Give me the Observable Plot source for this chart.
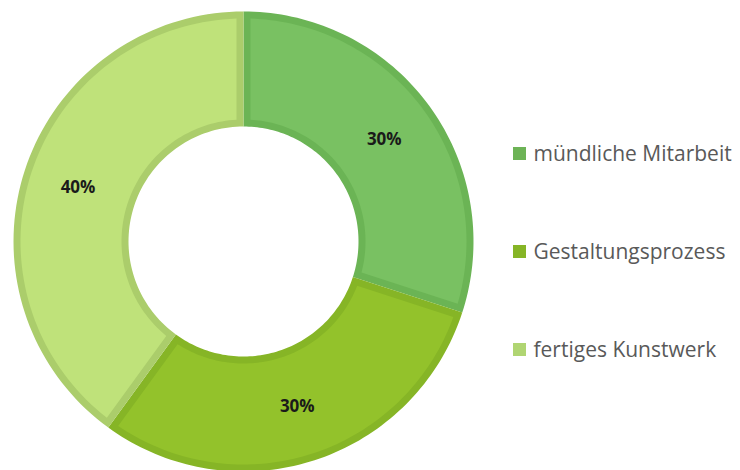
<!DOCTYPE html>
<html><head><meta charset="utf-8">
<script src="https://cdn.jsdelivr.net/npm/d3@7"></script>
<script src="https://cdn.jsdelivr.net/npm/@observablehq/plot@0.6"></script>
<style>body{margin:0;background:#fff;overflow:hidden}</style>
</head><body><div id="chart"></div>
<script>
const categories = ["mündliche Mitarbeit", "Gestaltungsprozess", "fertiges Kunstwerk"];
const shares = [0.30, 0.30, 0.40];
const fillColors = ["#79c162", "#93c22b", "#bfe27a"];
const borderColors = ["#6bb455", "#86b526", "#abcd6b"];
const legendColors = ["#6db356", "#86b526", "#b0d572"];

const W = 740, H = 470;
const cx = 243, cy = 241, R = 230, R0 = 115, inset = 7, labelR = 174;

const arcs = d3.pie().sort(null).value(d => d)(shares);

function pt(a, r) { return {x: cx + r * Math.sin(a), y: cy - r * Math.cos(a)}; }

function sector(a0, a1, rin, rout, d) {
  const pts = [];
  const N = 80;
  const ro = rout - d, ri = rin + d;
  const oa0 = a0 + (d ? Math.asin(d / ro) : 0), oa1 = a1 - (d ? Math.asin(d / ro) : 0);
  const ia0 = a0 + (d ? Math.asin(d / ri) : 0), ia1 = a1 - (d ? Math.asin(d / ri) : 0);
  for (let k = 0; k <= N; k++) pts.push(pt(oa0 + (oa1 - oa0) * k / N, ro));
  for (let k = 0; k <= N; k++) pts.push(pt(ia1 + (ia0 - ia1) * k / N, ri));
  pts.push(pts[0]);
  return pts;
}

const marks = [];
arcs.forEach((a, i) => {
  marks.push(Plot.line(sector(a.startAngle, a.endAngle, R0, R, 0), {x: "x", y: "y", fill: borderColors[i], stroke: "none", curve: "linear"}));
  marks.push(Plot.line(sector(a.startAngle, a.endAngle, R0, R, inset), {x: "x", y: "y", fill: fillColors[i], stroke: "none", curve: "linear"}));
});

marks.push(Plot.text(arcs, {
  x: d => pt((d.startAngle + d.endAngle) / 2, labelR).x,
  y: d => pt((d.startAngle + d.endAngle) / 2, labelR).y,
  text: d => d3.format(".0%")(d.value),
  fontWeight: "bold", fontSize: 17, fill: "#1a1a1a",
  fontFamily: "Open Sans, sans-serif"
}));

marks.push(Plot.rect(categories, {
  x1: 513, x2: 526,
  y1: (d, i) => 147 + 98 * i, y2: (d, i) => 160 + 98 * i,
  fill: (d, i) => legendColors[i]
}));
marks.push(Plot.text(categories, {
  x: 533, y: (d, i) => 154 + 98 * i,
  text: d => d, textAnchor: "start", fontSize: 21, fill: "#595959",
  fontFamily: "Open Sans, sans-serif"
}));

const chart = Plot.plot({
  width: W, height: H,
  marginTop: 0, marginRight: 0, marginBottom: 0, marginLeft: 0,
  x: {domain: [0, W], range: [0, W], axis: null},
  y: {domain: [0, H], range: [0, H], axis: null},
  marks
});
document.getElementById("chart").appendChild(chart);
</script>
</body></html>
